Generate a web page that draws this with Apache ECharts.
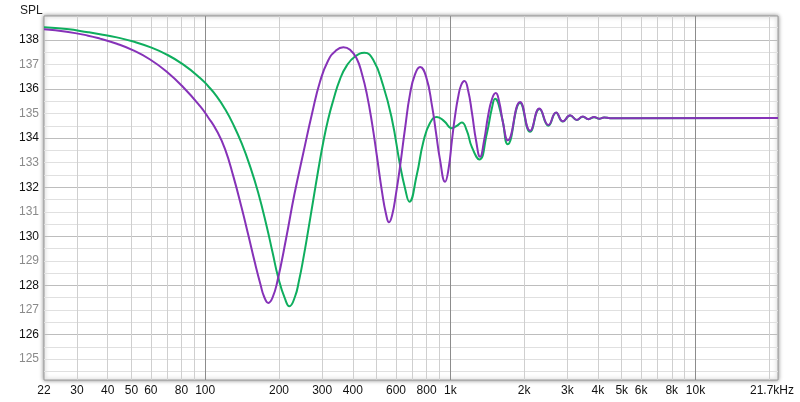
<!DOCTYPE html>
<html>
<head>
<meta charset="utf-8">
<script src="https://cdn.jsdelivr.net/npm/echarts@6/dist/echarts.min.js"></script>
<style>html,body{margin:0;padding:0;background:#fff;}#c{width:800px;height:402px;}</style>
</head>
<body>
<div id="c"></div>
<script>
// Frequencies (Hz) and SPL values
const greenFreq = [22, 27.2, 33.3, 37.2, 43.6, 50.9, 59.6, 69.7, 81.2, 95.3, 102.7, 111.4, 120.5, 130.2, 140.9, 152.4, 164.2, 178.2, 188.2, 198.8, 211.7, 220.4, 232.5, 241.4, 251.4, 262.7, 276.1, 288.6, 303.3, 317, 333.2, 354.8, 377.9, 408.5, 446, 483.8, 531.5, 576.8, 623.5, 653.5, 680.3, 729.4, 776.1, 826.5, 880.3, 945.3, 1013, 1062, 1113, 1167, 1223, 1313, 1408, 1476, 1522, 1621, 1715, 1925, 2115, 2308, 2511, 2700, 2876, 3081, 3280, 3470, 3657, 3858, 4044, 4238, 4484, 21700];
const greenSpl  = [138.51, 138.44, 138.31, 138.23, 138.1, 137.93, 137.7, 137.4, 137.0, 136.45, 136.12, 135.7, 135.18, 134.55, 133.78, 132.85, 131.8, 130.4, 129.35, 128.3, 127.45, 127.15, 127.55, 128.2, 129.1, 130.2, 131.5, 132.65, 133.85, 134.75, 135.55, 136.4, 136.95, 137.32, 137.47, 137.2, 136.15, 134.8, 132.9, 131.95, 131.41, 132.5, 133.85, 134.62, 134.86, 134.68, 134.4, 134.5, 134.63, 134.3, 133.64, 133.13, 134.18, 135.2, 135.6, 134.86, 133.75, 135.43, 134.26, 135.18, 134.5, 135.03, 134.67, 134.92, 134.74, 134.87, 134.77, 134.85, 134.79, 134.84, 134.81, 134.82];

const purpleFreq = [22, 27.2, 33.3, 37.2, 43.6, 50.9, 59.6, 69.7, 81.2, 95.3, 102.7, 111.4, 120.5, 130.2, 140.9, 149.9, 159.7, 168.5, 173.8, 181, 188.2, 197.3, 213.7, 231.0, 251.4, 272.8, 294.1, 317.0, 340.2, 366, 389.8, 415.2, 436.3, 456, 479.3, 501, 526.5, 546.7, 562, 578.4, 600.5, 623.5, 653.5, 684.8, 717.9, 752.4, 796, 842.1, 874.3, 908, 951.7, 983.4, 1016, 1045, 1075, 1106, 1141, 1181, 1226, 1273, 1322, 1373, 1425, 1480, 1532, 1580, 1641, 1715, 1925, 2115, 2308, 2511, 2700, 2876, 3081, 3280, 3470, 3657, 3858, 4044, 4238, 4484, 21700];
const purpleSpl  = [138.43, 138.33, 138.17, 138.05, 137.84, 137.57, 137.2, 136.7, 136.08, 135.3, 134.85, 134.3, 133.55, 132.45, 131.15, 130.05, 128.9, 128.0, 127.55, 127.29, 127.5, 128.2, 129.9, 131.7, 133.4, 135.0, 136.3, 137.15, 137.55, 137.7, 137.6, 137.23, 136.6, 135.81, 134.6, 133.3, 131.8, 130.9, 130.57, 130.85, 131.75, 132.85, 134.4, 135.8, 136.6, 136.89, 136.5, 135.3, 134.2, 133.1, 132.22, 132.75, 133.95, 134.9, 135.65, 136.15, 136.32, 135.95, 135.0, 133.9, 133.24, 133.9, 134.9, 135.6, 135.83, 135.5, 134.6, 133.91, 135.47, 134.3, 135.2, 134.53, 135.04, 134.68, 134.93, 134.74, 134.88, 134.77, 134.86, 134.79, 134.84, 134.81, 134.82];

// Axis ticks
const xLabelValues = [22, 30, 40, 50, 60, 80, 100, 200, 300, 400, 600, 800, 1000, 2000, 3000, 4000, 5000, 6000, 8000, 10000, 21700];
const xLightLines = [30, 40, 50, 60, 70, 80, 90, 200, 300, 400, 500, 600, 700, 800, 900, 2000, 3000, 4000, 5000, 6000, 7000, 8000, 9000, 20000];
const xDarkLines = [100, 1000, 10000];
const yLabelValues = [125, 126, 127, 128, 129, 130, 131, 132, 133, 134, 135, 136, 137, 138];
const yLightLines = [124.5, 125, 125.5, 126.5, 127, 127.5, 128.5, 129, 129.5, 130.5, 131, 131.5, 132.5, 133, 133.5, 134.5, 135, 135.5, 136.5, 137, 137.5, 138.5];
const yDarkLines = [126, 128, 130, 132, 134, 136, 138];

const FONT = "'Liberation Sans', Arial, sans-serif";
const X_MIN = 22, X_MAX = 21700, Y_MIN = 124.15, Y_MAX = 138.97;

function xFmt(v) {
  if (Math.abs(v - 21700) < 1) return '{r|21.7kHz}';
  if (v >= 1000) return (v / 1000) + 'k';
  return String(v);
}

const chart = echarts.init(document.getElementById('c'), null, {renderer: 'canvas'});
chart.setOption({
  animation: false,
  backgroundColor: '#fff',
  title: {
    text: 'SPL', left: 15, top: 0,
    textStyle: {fontFamily: FONT, fontSize: 12, fontWeight: 'normal', color: '#222'}
  },
  grid: {
    left: 44, right: 22, top: 16, bottom: 22,
    show: true, backgroundColor: '#fff', borderColor: '#9a9a9a', borderWidth: 1,
    shadowBlur: 4, shadowColor: 'rgba(0,0,0,0.45)', shadowOffsetX: 0, shadowOffsetY: 0
  },
  xAxis: [
    {
      type: 'log', logBase: 10, min: X_MIN, max: X_MAX,
      axisLine: {show: false},
      axisTick: {show: false, customValues: xLightLines},
      splitLine: {show: true, lineStyle: {color: '#cfcfcf', width: 1}},
      axisLabel: {
        customValues: xLabelValues, formatter: xFmt, margin: 5,
        fontFamily: FONT, fontSize: 12, color: '#111',
        rich: {r: {fontFamily: FONT, fontSize: 12, color: '#111', padding: [0, 12, 0, 0]}}
      }
    },
    {
      type: 'log', logBase: 10, min: X_MIN, max: X_MAX, position: 'bottom',
      axisLine: {show: false},
      axisTick: {show: false, customValues: xDarkLines},
      splitLine: {show: true, lineStyle: {color: '#8c8c8c', width: 1}},
      axisLabel: {show: false}
    }
  ],
  yAxis: [
    {
      type: 'value', min: Y_MIN, max: Y_MAX,
      axisLine: {show: false},
      axisTick: {show: false, customValues: yLightLines},
      splitLine: {show: true, lineStyle: {color: '#e0e0e0', width: 1}},
      axisLabel: {
        customValues: yLabelValues, margin: 5,
        fontFamily: FONT, fontSize: 12,
        color: function (v) { return (Math.round(v) % 2 === 0) ? '#111' : '#8a8a8a'; },
        formatter: function (v) { return String(Math.round(v)); }
      }
    },
    {
      type: 'value', min: Y_MIN, max: Y_MAX, position: 'left',
      axisLine: {show: false},
      axisTick: {show: false, customValues: yDarkLines},
      splitLine: {show: true, lineStyle: {color: '#bdbdbd', width: 1}},
      axisLabel: {show: false}
    }
  ],
  series: [
    {
      name: 'green', type: 'line', xAxisIndex: 0, yAxisIndex: 0,
      data: greenFreq.map((f, i) => [f, greenSpl[i]]),
      smooth: 0.5, showSymbol: false, silent: true,
      lineStyle: {color: '#0fae5e', width: 2}
    },
    {
      name: 'purple', type: 'line', xAxisIndex: 0, yAxisIndex: 0,
      data: purpleFreq.map((f, i) => [f, purpleSpl[i]]),
      smooth: 0.5, showSymbol: false, silent: true,
      lineStyle: {color: '#8632b8', width: 2}
    }
  ]
});
</script>
</body>
</html>
